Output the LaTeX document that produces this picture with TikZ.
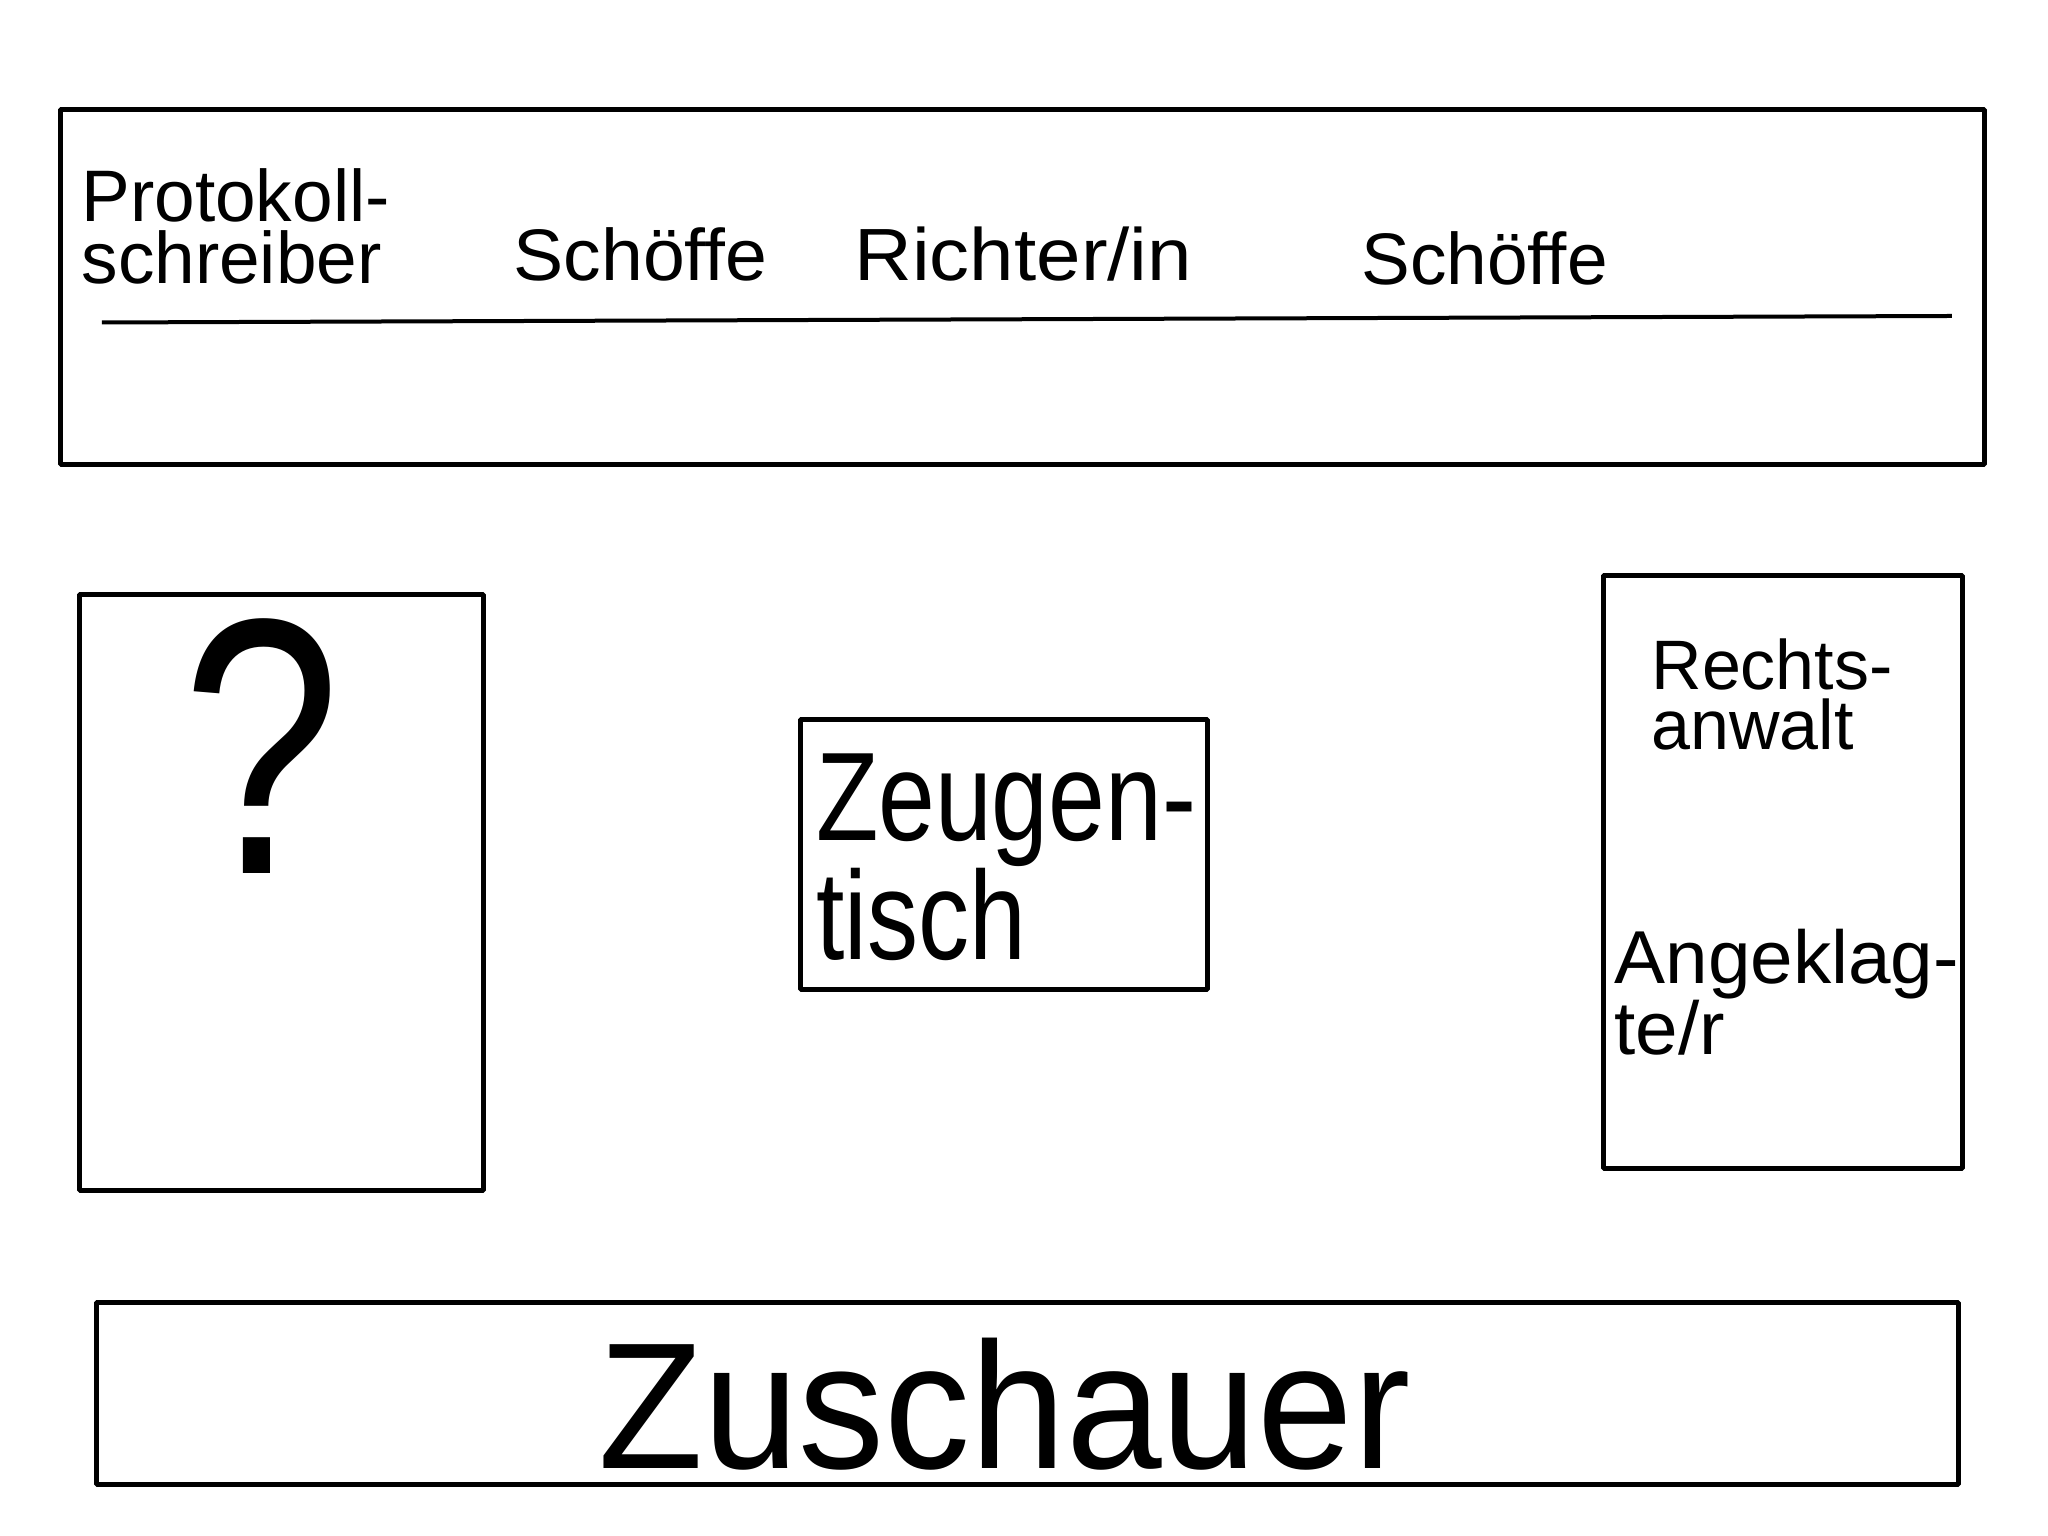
\documentclass[tikz,border=0pt]{standalone}
\usepackage{fontspec}
\setmainfont{Liberation Sans}
\usepackage{tikz}
\usetikzlibrary{shapes,arrows}

\tikzset{
  desk/.style={draw,rectangle,line width=5pt,inner sep=0pt},
  lab/.style={inner sep=0pt,anchor=base west,align=left},
}

\begin{document}
\begin{tikzpicture}[line join=bevel,line width=5pt]
%%
\useasboundingbox (0pt,0pt) rectangle (2048pt,1536pt);
  \node (bench) at (1022.3pt,1248.8pt) [desk,minimum width=1924.4pt,minimum height=355.1pt] {};
  \node (side) at (281.4pt,643.6pt) [desk,minimum width=403.5pt,minimum height=596.7pt] {};
  \node (witness) at (1004pt,681.5pt) [desk,minimum width=407.4pt,minimum height=270.2pt] {};
  \node (defence) at (1782.8pt,663.9pt) [desk,minimum width=359pt,minimum height=592.7pt] {};
  \node (public) at (1027.5pt,142.3pt) [desk,minimum width=1861.8pt,minimum height=181.5pt] {};
  \coordinate (benchl) at (101.8pt,1213.5pt);
  \coordinate (benchr) at (1951.9pt,1220pt);
  \node (clerk) at (79pt,1252pt) [lab,font=\fontsize{73}{62}\selectfont] {Protokoll-\\schreiber};
  \node (lay1) at (511pt,1255pt) [lab,font=\fontsize{73}{62}\selectfont\addfontfeature{FakeStretch=1.03}] {Schöffe};
  \node (judge) at (852pt,1255pt) [lab,font=\fontsize{74}{62}\selectfont\addfontfeature{FakeStretch=1.08}] {Richter/in};
  \node (lay2) at (1359pt,1251pt) [lab,font=\fontsize{73}{62}\selectfont] {Schöffe};
  \node (unknown) at (262pt,662pt) [inner sep=0pt,anchor=base,font=\fontsize{365}{365}\selectfont\addfontfeature{FakeStretch=0.78}] {?};
  \node (wlab) at (813.5pt,576.6pt) [lab,font=\fontsize{126}{98}\selectfont\addfontfeature{FakeStretch=0.81}] {Zeugen-\\tisch};
  \node (lawyer) at (1649pt,786.6pt) [lab,font=\fontsize{70}{60}\selectfont] {Rechts-\\anwalt};
  \node (accused) at (1612pt,481.6pt) [lab,font=\fontsize{75}{63}\selectfont\addfontfeature{FakeStretch=1.02}] {Angeklag-\\te/r};
  \node (plab) at (1004.4pt,67pt) [inner sep=0pt,anchor=base,font=\fontsize{180}{180}\selectfont\addfontfeature{FakeStretch=0.955}] {Zuschauer};
  \draw [line width=4pt] (benchl) -- (benchr);
%
\end{tikzpicture}
\end{document}
